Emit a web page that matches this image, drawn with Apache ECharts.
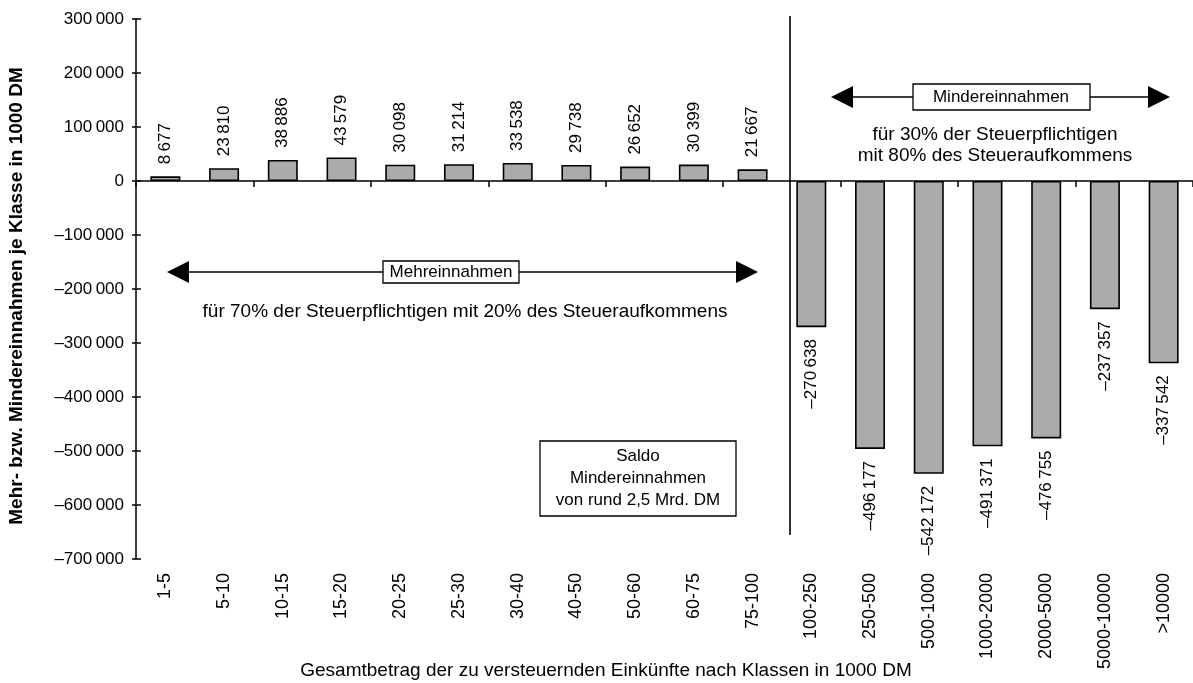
<!DOCTYPE html>
<html><head><meta charset="utf-8">
<script src="https://cdn.jsdelivr.net/npm/echarts@6/dist/echarts.min.js"></script>
<style>html,body{margin:0;padding:0;background:#fff}#c{width:1193px;height:683px}</style>
</head><body><div id="c"></div>
<script>
const categories = ['1-5','5-10','10-15','15-20','20-25','25-30','30-40','40-50','50-60','60-75','75-100','100-250','250-500','500-1000','1000-2000','2000-5000','5000-10000','>10000'];
const values = [8677,23810,38886,43579,30098,31214,33538,29738,26652,30399,21667,-270638,-496177,-542172,-491371,-476755,-237357,-337542];
const yMin = -700000, yMax = 300000, yStep = 100000;
const yAxisTitle = 'Mehr- bzw. Mindereinnahmen je Klasse in 1000 DM';
const xAxisTitle = 'Gesamtbetrag der zu versteuernden Einkünfte nach Klassen in 1000 DM';
const mehrLabel = 'Mehreinnahmen';
const mehrText = 'für 70% der Steuerpflichtigen mit 20% des Steueraufkommens';
const minderLabel = 'Mindereinnahmen';
const minderText = ['für 30% der Steuerpflichtigen', 'mit 80% des Steueraufkommens'];
const saldoText = ['Saldo', 'Mindereinnahmen', 'von rund 2,5 Mrd. DM'];

const F = "'Liberation Sans', Arial, Helvetica, sans-serif";
function fmt(v){
  const s = Math.abs(v).toString().replace(/\B(?=(\d{3})+(?!\d))/g, '\u2009');
  return (v < 0 ? '\u2013' : '') + s;
}
function txt(x, y, text, size, extra){
  return Object.assign({type:'text', x:x, y:y, z:100,
    style:{text:text, font: size + 'px ' + F, fill:'#000', align:'center', verticalAlign:'middle'}}, extra||{});
}
function arrow(x1, x2, y, h, w){
  return [
    {type:'line', z:100, shape:{x1:x1+w, y1:y, x2:x2-w, y2:y}, style:{stroke:'#000', lineWidth:1.5}},
    {type:'polygon', z:100, shape:{points:[[x1,y],[x1+w,y-h],[x1+w,y+h]]}, style:{fill:'#000'}},
    {type:'polygon', z:100, shape:{points:[[x2,y],[x2-w,y-h],[x2-w,y+h]]}, style:{fill:'#000'}}
  ];
}
function box(x, y, w, h){
  return {type:'rect', z:100, shape:{x:x, y:y, width:w, height:h}, style:{fill:'#fff', stroke:'#000', lineWidth:1.3}};
}

const graphics = [].concat(
  [{type:'line', z:100, shape:{x1:790, y1:16, x2:790, y2:535}, style:{stroke:'#000', lineWidth:1.6}}],
  arrow(167, 758, 272, 11, 22),
  [box(383, 261, 136, 22), txt(451, 272, mehrLabel, 17), txt(465, 312, mehrText, 19)],
  arrow(831, 1170, 97, 11, 22),
  [box(913, 84, 177, 26), txt(1001, 97, minderLabel, 17),
   txt(995, 135, minderText[0], 19), txt(995, 156, minderText[1], 19)],
  [box(540, 441, 196, 75), txt(638, 456, saldoText[0], 17), txt(638, 478, saldoText[1], 17), txt(638, 500, saldoText[2], 17)],
  [txt(17, 296, yAxisTitle, 19, {rotation: Math.PI/2, style:{text:yAxisTitle, font:'bold 19px ' + F, fill:'#000', align:'center', verticalAlign:'middle'}}),
   txt(606, 671, xAxisTitle, 19)]
);

const chart = echarts.init(document.getElementById('c'));
chart.setOption({
  animation:false,
  backgroundColor:'#fff',
  grid:{left:136, right:-4, top:19, bottom:124},
  xAxis:[
    {type:'category', data:categories,
     axisLine:{onZero:true, lineStyle:{color:'#000', width:1.5}},
     axisTick:{show:true, length:6, lineStyle:{color:'#000', width:1.5}},
     axisLabel:{show:false}, splitLine:{show:false}},
    {type:'category', data:categories, position:'bottom',
     axisLine:{show:false, onZero:false}, axisTick:{show:false},
     axisLabel:{rotate:90, margin:14, fontSize:18, color:'#000', fontFamily:F}}
  ],
  yAxis:[
    {type:'value', min:yMin, max:yMax, interval:yStep, position:'left',
     axisLine:{show:true, lineStyle:{color:'#000', width:1.5}},
     axisTick:{show:true, length:4, lineStyle:{color:'#000', width:1.5}},
     axisLabel:{formatter:fmt, fontSize:17, color:'#000', margin:12, fontFamily:F},
     splitLine:{show:false}},
    {type:'value', min:yMin, max:yMax, interval:yStep, position:'left',
     axisLine:{show:false}, axisTick:{show:true, inside:true, length:5, lineStyle:{color:'#000', width:1.5}},
     axisLabel:{show:false}, splitLine:{show:false}}
  ],
  series:[{
    type:'bar', xAxisIndex:0, yAxisIndex:0, barWidth:30,
    itemStyle:{color:'#ababab', borderColor:'#000', borderWidth:1.6},
    data: values.map(v => ({value:v, label:{show:true, position: v >= 0 ? 'top' : 'bottom',
      rotate:90, align: v >= 0 ? 'left' : 'right', verticalAlign:'middle', distance:12,
      formatter: p => fmt(p.value), fontSize:17, color:'#000', fontFamily:F}}))
  }],
  graphic: graphics
});
</script></body></html>
